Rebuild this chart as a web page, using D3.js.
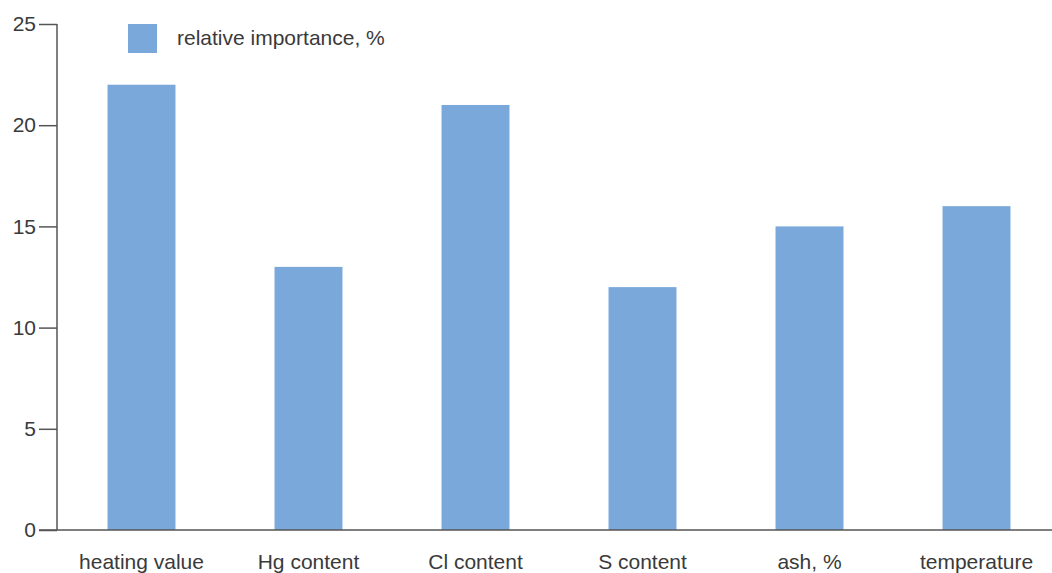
<!DOCTYPE html>
<html><head><meta charset="utf-8">
<script src="https://cdn.jsdelivr.net/npm/d3@7"></script>
<style>body{margin:0;background:#fff}</style>
</head><body>
<svg id="c" width="1052" height="573"></svg>
<script>
const categories = ["heating value","Hg content","Cl content","S content","ash, %","temperature"];
const values = [22,13,21,12,15,16];
const yTicks = [0,5,10,15,20,25];
const seriesName = "relative importance, %";

const svg = d3.select("#c");
const font = "'Liberation Sans', Arial, sans-serif";
const x = d3.scaleBand().domain(categories).range([58,1060]).paddingInner(0.593).paddingOuter(0.2965);
const y = d3.scaleLinear().domain([0,25]).range([530,24]);

svg.selectAll("rect.bar").data(values).enter().append("rect")
  .attr("class","bar")
  .attr("x",(d,i)=>x(categories[i]))
  .attr("width",x.bandwidth())
  .attr("y",d=>y(d))
  .attr("height",d=>y(0)-y(d))
  .attr("fill","#7BA8DA");

// y axis
const ya = svg.append("g").attr("transform","translate(57,0)")
  .call(d3.axisLeft(y).tickValues(yTicks).tickSize(18).tickPadding(3).tickFormat(d3.format("d")));
ya.select(".domain").attr("stroke","#555").attr("stroke-width",1.5).attr("d","M0,24V530");
ya.selectAll(".tick line").attr("stroke","#555").attr("stroke-width",1.5);
ya.selectAll(".tick text").attr("font-family",font).attr("font-size",21).attr("fill","#3a3a3a");

// x axis line
svg.append("line").attr("x1",39).attr("x2",1052).attr("y1",530).attr("y2",530)
  .attr("stroke","#555").attr("stroke-width",1.5);

// category labels
svg.selectAll("text.cat").data(categories).enter().append("text")
  .attr("class","cat")
  .attr("x",d=>x(d)+x.bandwidth()/2)
  .attr("y",569)
  .attr("text-anchor","middle")
  .attr("font-family",font).attr("font-size",21).attr("fill","#3a3a3a")
  .text(d=>d);

// legend
svg.append("rect").attr("x",128).attr("y",24).attr("width",29).attr("height",29).attr("fill","#7BA8DA");
svg.append("text").attr("x",177).attr("y",45).attr("font-family",font).attr("font-size",21).attr("fill","#3a3a3a").text(seriesName);
</script>
</body></html>
